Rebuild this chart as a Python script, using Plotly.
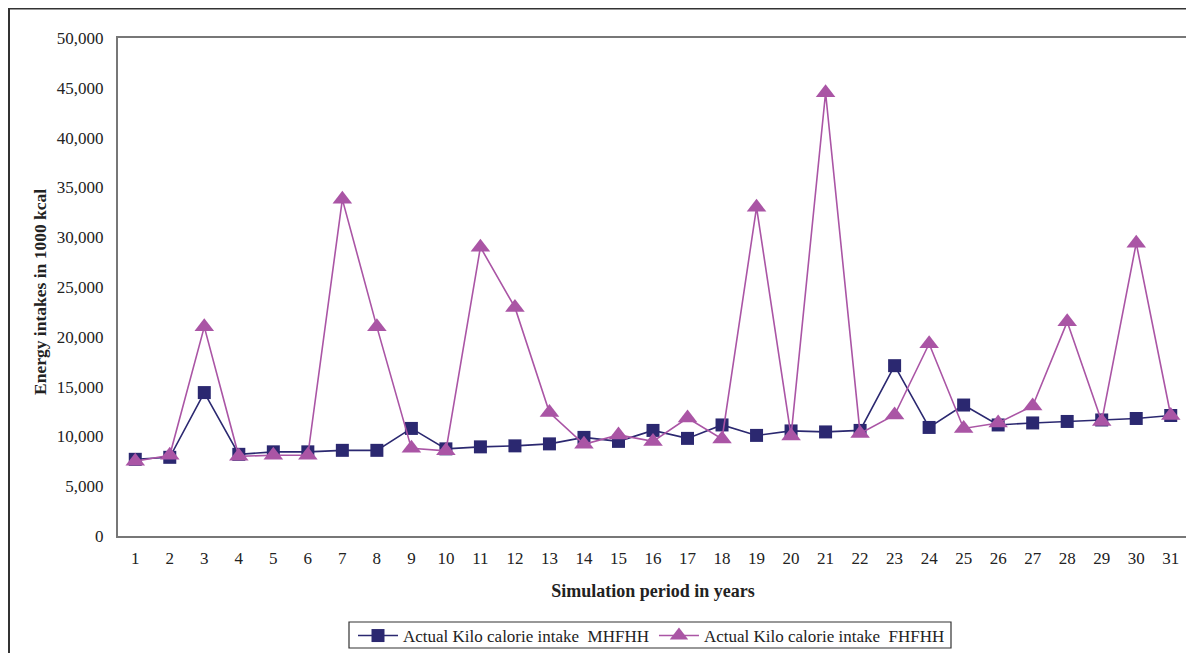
import plotly.graph_objects as go

years = list(range(1, 32))
mhfhh = [7700, 7900, 14400, 8200, 8450, 8450, 8600, 8600, 10800, 8750,
         8950, 9050, 9250, 9900, 9500, 10600, 9800, 11150, 10100, 10550,
         10450, 10600, 17100, 10900, 13150, 11150, 11350, 11500, 11650, 11800, 12100]
fhfhh = [7500, 8100, 21000, 8000, 8100, 8100, 33800, 21000, 8800, 8550,
         29000, 22950, 12400, 9200, 10150, 9500, 11850, 9750, 33000, 10050,
         44500, 10300, 12150, 19300, 10800, 11350, 13050, 21500, 11500, 29400, 12100]
names = ["Actual Kilo calorie intake\u00a0 MHFHH", "Actual Kilo calorie intake\u00a0 FHFHH"]
yticks = list(range(0, 50001, 5000))

# page has an 8px body margin; figure coordinates are offset accordingly
W, H = 1186, 645
L, R, T, B = 110, 6, 30, 117
pw = W - L - R
ph = H - T - B


def px(x):
    return (x - 8 - L) / pw


def py(y):
    return (H - B - (y - 8)) / ph


fig = go.Figure()
fig.add_trace(go.Scatter(x=years, y=mhfhh, name=names[0], mode="lines+markers",
                         line=dict(color="#2B2870", width=1.6),
                         marker=dict(symbol="square", size=13, color="#2B2870")))
fig.add_trace(go.Scatter(x=years, y=fhfhh, name=names[1], mode="lines+markers",
                         line=dict(color="#AA55A5", width=1.6),
                         marker=dict(symbol="triangle-up", size=17, color="#AA55A5")))

font = "Liberation Serif, Times New Roman, serif"
fig.update_layout(
    width=W, height=H,
    margin=dict(l=L, r=R, t=T, b=B, autoexpand=False),
    paper_bgcolor="white", plot_bgcolor="white",
    font=dict(family=font, size=17, color="#222"),
    showlegend=True,
    legend=dict(orientation="h", x=px(353), y=py(636),
                xanchor="left", yanchor="middle", bgcolor="rgba(0,0,0,0)",
                borderwidth=0, font=dict(size=17, family=font, color="#222"),
                itemwidth=40, tracegroupgap=0),
    xaxis=dict(range=[0.5, 31.5], tickmode="array", tickvals=years,
               ticktext=[str(y) for y in years], showgrid=False, zeroline=False,
               showline=True, linecolor="#777", linewidth=2, mirror=True, ticks="",
               automargin=False, ticklabelstandoff=6,
               title=dict(text="<b>Simulation period in years</b>", font=dict(size=18, family=font), standoff=17)),
    yaxis=dict(range=[0, 50000], tickmode="array", tickvals=yticks,
               ticktext=[f"{v:,}" for v in yticks], showgrid=False, zeroline=False,
               showline=True, linecolor="#777", linewidth=2, mirror=True, ticks="",
               automargin=False, ticklabelstandoff=9),
)
fig.add_annotation(text="<b>Energy intakes in 1000 kcal</b>", textangle=-90,
                   xref="paper", yref="paper", x=px(40), y=py(292),
                   xanchor="center", yanchor="middle", showarrow=False,
                   font=dict(size=17.5, family=font, color="#222"))
# outer chart border
fig.add_shape(type="rect", xref="paper", yref="paper",
              x0=px(9), x1=px(1215), y0=py(680), y1=py(8.5),
              line=dict(color="#333", width=2), fillcolor="rgba(0,0,0,0)", layer="below")
# legend box
fig.add_shape(type="rect", xref="paper", yref="paper",
              x0=px(349), x1=px(951), y0=py(648), y1=py(622),
              line=dict(color="#333", width=1.2), fillcolor="rgba(0,0,0,0)", layer="below")
fig.write_html("out.html")
